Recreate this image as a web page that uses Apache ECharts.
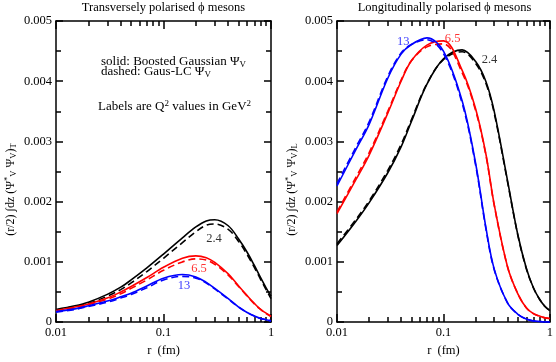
<!DOCTYPE html>
<html>
<head>
<meta charset="utf-8">
<script src="https://cdn.jsdelivr.net/npm/echarts@6/dist/echarts.min.js"></script>
<style>html,body{margin:0;padding:0;background:#fff;}#c{width:556px;height:362px;}</style>
</head>
<body>
<div id="c"></div>
<script>
// ---- data ----
const rGrid = [0.01,0.015,0.02,0.03,0.04,0.05,0.07,0.1,0.15,0.2,0.25,0.3,0.4,0.5,0.6,0.7,0.8,0.9,1.0];
// Transverse panel
const tSolid24 = [0.00021,0.00027,0.00033,0.00046,0.00058,0.00070,0.00090,0.00113,0.00140,0.00158,0.00168,0.00170,0.00160,0.00138,0.00116,0.00094,0.00074,0.00057,0.00043];
const tDash24  = [0.00020,0.00026,0.00031,0.00043,0.00054,0.00065,0.00084,0.00106,0.00132,0.00150,0.00161,0.00163,0.00154,0.00134,0.00112,0.00091,0.00071,0.00054,0.00039];
const tSolid65 = [0.00019,0.00025,0.00030,0.00040,0.00050,0.00059,0.00074,0.00091,0.00106,0.00110,0.00107,0.00099,0.00080,0.00060,0.00044,0.00031,0.00021,0.00015,0.00010];
const tDash65  = [0.00018,0.00024,0.00029,0.00038,0.00047,0.00056,0.00070,0.00086,0.00100,0.00105,0.00103,0.00096,0.00078,0.00059,0.00043,0.00030,0.00021,0.00014,0.00009];
const tSolid13 = [0.000175,0.00022,0.00027,0.00035,0.00042,0.00048,0.00060,0.00073,0.00079,0.00075,0.00066,0.00056,0.00039,0.00025,0.00016,0.00010,0.00006,0.00004,0.00002];
const tDash13  = [0.000165,0.00021,0.00026,0.00033,0.00040,0.00046,0.00057,0.00070,0.00076,0.00073,0.00065,0.00055,0.00038,0.00025,0.00016,0.00010,0.00006,0.00004,0.00002];
// Longitudinal panel
const lSolid13 = [0.00226,0.00286,0.00328,0.00405,0.00445,0.00461,0.00472,0.00450,0.00367,0.00265,0.00158,0.00088,0.00032,0.00013,0.00005,0.00002,0.00001,0.000005,0.0];
const lDash13  = [0.00230,0.00290,0.00332,0.00408,0.00447,0.00461,0.00469,0.00446,0.00363,0.00262,0.00156,0.00087,0.00032,0.00013,0.00005,0.00002,0.00001,0.000005,0.0];
const lSolid65 = [0.00180,0.00236,0.00277,0.00347,0.00400,0.00434,0.00460,0.00467,0.00418,0.00355,0.00280,0.00195,0.00092,0.00047,0.00024,0.00014,0.00010,0.00007,0.00006];
const lDash65  = [0.00183,0.00240,0.00281,0.00350,0.00402,0.00434,0.00457,0.00462,0.00414,0.00352,0.00278,0.00194,0.00092,0.00047,0.00024,0.00014,0.00010,0.00007,0.00006];
const lSolid24 = [0.00127,0.00167,0.00198,0.00248,0.00291,0.00333,0.00395,0.00437,0.00452,0.00433,0.00400,0.00350,0.00235,0.00145,0.00090,0.00057,0.00038,0.00026,0.00019];
const lDash24  = [0.00130,0.00170,0.00201,0.00252,0.00295,0.00336,0.00396,0.00436,0.00449,0.00430,0.00397,0.00347,0.00233,0.00144,0.00089,0.00057,0.00038,0.00026,0.00019];

const xMajorTicks = [0.01,0.1,1];
const xMinorTicks = [0.02,0.03,0.04,0.05,0.06,0.07,0.08,0.09,0.2,0.3,0.4,0.5,0.6,0.7,0.8,0.9];
const panelTitles = ['Transversely polarised \u03d5 mesons','Longitudinally polarised \u03d5 mesons'];
const yNames = [
  '{n|(r/2) \u222Bdz (\u03A8}{sup|*}{sub|V}{n| \u03A8}{sub|V}{n|)}{sub|T}{gap|}',
  '{n|(r/2) \u222Bdz (\u03A8}{sup|*}{sub|V}{n| \u03A8}{sub|V}{n|)}{sub|L}{gap|}'
];
// curve labels: [panel, text, r, value, colour]
const curveLabels = [
  [0,'2.4',0.295,0.00139,'#000'],
  [0,'6.5',0.214,0.00089,'#ff0000'],
  [0,'13',0.155,0.00060,'#0000ff'],
  [1,'13',0.042,0.00465,'#0000ff'],
  [1,'6.5',0.122,0.00471,'#ff0000'],
  [1,'2.4',0.271,0.00436,'#000']
];

// ---- build ----
const FONT = 'Liberation Serif';
const grids = [
  {left:56, top:21, width:215, height:311},
  {left:337, top:21, width:215, height:311}
];
const xAxes = [], yAxes = [], series = [];
for (let g=0; g<2; g++){
  const base = {type:'log', logBase:10, min:0.01, max:1, gridIndex:g, splitLine:{show:false}};
  xAxes.push(Object.assign({}, base, {
    position:'bottom',
    axisLine:{show:true, lineStyle:{color:'#000', width:1.5}},
    axisTick:{show:true, inside:true, length:8, customValues:xMajorTicks, lineStyle:{color:'#000', width:1.5}},
    axisLabel:{show:true, customValues:xMajorTicks, formatter:v=>String(+v.toPrecision(3)), color:'#000', fontFamily:FONT, fontSize:12.5, margin:4},
    name:'r  (fm)', nameLocation:'middle', nameGap:19,
    nameTextStyle:{color:'#000', fontFamily:FONT, fontSize:12.5}
  }));
  xAxes.push(Object.assign({}, base, {
    position:'bottom',
    axisLine:{show:false},
    axisTick:{show:true, inside:true, length:5, customValues:xMinorTicks, lineStyle:{color:'#000', width:1.5}},
    axisLabel:{show:false}
  }));
  xAxes.push(Object.assign({}, base, {
    position:'top',
    axisLine:{show:true, lineStyle:{color:'#000', width:1.5}},
    axisTick:{show:true, inside:true, length:8, customValues:xMajorTicks, lineStyle:{color:'#000', width:1.5}},
    axisLabel:{show:false}
  }));
  xAxes.push(Object.assign({}, base, {
    position:'top',
    axisLine:{show:false},
    axisTick:{show:true, inside:true, length:5, customValues:xMinorTicks, lineStyle:{color:'#000', width:1.5}},
    axisLabel:{show:false}
  }));
  const ybase = {type:'value', min:0, max:0.005, interval:0.001, gridIndex:g, splitLine:{show:false},
    axisLine:{show:true, lineStyle:{color:'#000', width:1.5}},
    axisTick:{show:true, inside:true, length:7, lineStyle:{color:'#000', width:1.5}},
    minorTick:{show:true, splitNumber:2, length:5, lineStyle:{color:'#000', width:1.5}}};
  yAxes.push(Object.assign({}, ybase, {
    position:'left',
    axisLabel:{show:true, formatter:v=> v===0 ? '0' : v.toFixed(3), color:'#000', fontFamily:FONT, fontSize:12.5, margin:4},
    name:yNames[g], nameLocation:'middle', nameGap:38,
    nameTextStyle:{color:'#000', fontFamily:FONT, fontSize:12,
      rich:{
        n:{fontFamily:FONT, fontSize:12, color:'#000'},
        sup:{fontFamily:FONT, fontSize:8.5, color:'#000', verticalAlign:'top', padding:[0,0,6,0]},
        sub:{fontFamily:FONT, fontSize:8.5, color:'#000', verticalAlign:'bottom', padding:[6,0,0,0]},
        gap:{width:36}
      }}
  }));
  yAxes.push(Object.assign({}, ybase, {position:'right', axisLabel:{show:false}}));
}
const pData = vals => rGrid.map((r,i)=>[r, vals[i]]);
const panelSeries = [
  [[tSolid24,'#000',0],[tDash24,'#000',1],[tSolid65,'#ff0000',0],[tDash65,'#ff0000',1],[tSolid13,'#0000ff',0],[tDash13,'#0000ff',1]],
  [[lSolid24,'#000',0],[lDash24,'#000',1],[lSolid65,'#ff0000',0],[lDash65,'#ff0000',1],[lSolid13,'#0000ff',0],[lDash13,'#0000ff',1]]
];
for (let g=0; g<2; g++){
  panelSeries[g].forEach(([vals,col,dashed])=>{
    series.push({
      type:'line', xAxisIndex:g*4, yAxisIndex:g*2, data:pData(vals),
      showSymbol:false, symbol:'none', smooth:0.35, silent:true, animation:false,
      lineStyle:{color:col, width:1.6, type: dashed ? [7,4] : 'solid'}
    });
  });
  series.push({
    type:'scatter', xAxisIndex:g*4, yAxisIndex:g*2, symbolSize:0, silent:true, animation:false,
    data: curveLabels.filter(l=>l[0]===g).map(l=>({value:[l[2],l[3]], name:l[1],
      label:{show:true, position:'inside', formatter:l[1], color:l[4], fontFamily:FONT, fontSize:12.5}}))
  });
}

const option = {
  animation:false,
  title: [
    {text:panelTitles[0], left:163.5, textAlign:'center', top:1, padding:0, textStyle:{fontFamily:FONT, fontSize:12.5, fontWeight:'normal', color:'#000'}},
    {text:panelTitles[1], left:444.5, textAlign:'center', top:1, padding:0, textStyle:{fontFamily:FONT, fontSize:12.5, fontWeight:'normal', color:'#000'}}
  ],
  grid: grids, xAxis: xAxes, yAxis: yAxes, series: series,
  graphic: [
    {type:'text', left:101, top:55, style:{text:'{a|solid: Boosted Gaussian \u03A8}{s|V}', rich:{a:{fontFamily:FONT,fontSize:13,fill:'#000'}, s:{fontFamily:FONT,fontSize:9,fill:'#000',verticalAlign:'bottom',padding:[6,0,0,0]}}}},
    {type:'text', left:101, top:65, style:{text:'{a|dashed: Gaus-LC \u03A8}{s|V}', rich:{a:{fontFamily:FONT,fontSize:13,fill:'#000'}, s:{fontFamily:FONT,fontSize:9,fill:'#000',verticalAlign:'bottom',padding:[6,0,0,0]}}}},
    {type:'text', left:98, top:99, style:{text:'{a|Labels are Q}{p|2}{a| values in GeV}{p|2}', rich:{a:{fontFamily:FONT,fontSize:13,fill:'#000'}, p:{fontFamily:FONT,fontSize:9,fill:'#000',verticalAlign:'top',padding:[0,0,6,0]}}}}
  ]
};
const chart = echarts.init(document.getElementById('c'), null, {renderer:'canvas'});
chart.setOption(option);
</script>
</body>
</html>
